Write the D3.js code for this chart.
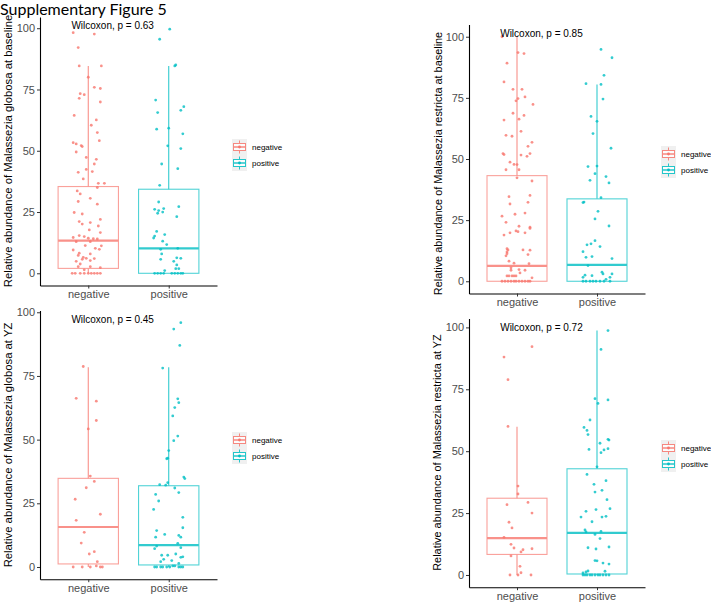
<!DOCTYPE html>
<html>
<head>
<meta charset="utf-8">
<script src="https://cdn.jsdelivr.net/npm/d3@7"></script>
<style>
  body { margin: 0; background: #fff; }
  text { font-family: Arial, "Liberation Sans", sans-serif; }
</style>
</head>
<body>
<script>
// Supplementary Figure 5 - boxplots with jittered points
// each point is [relative abundance, jitter] , jitter in +-16 units

const groups = ["negative", "positive"];
const colors = ["#F8766D", "#00BFC4"];

const globosaBaseNeg = [[98.2,-15],[97.6,6],[92.1,-10],[84.6,-9],[84.6,13],[80,0],[75.9,6],[75.4,12],[73.3,-8],[72.9,-4],[71.4,-9],[69.9,12],[64.4,-14],[62.6,8],[60.4,3],[57.4,9],[54.1,11],[53.3,-15],[52.8,-12],[52.1,-7],[51.7,-6],[49.5,-12],[47.3,-2],[46.5,8],[44.6,6],[42.4,-2],[41.2,-10],[41.5,4],[38.5,-5],[36.7,16],[36.7,10],[35,9],[33.6,-11],[32.4,-8],[30.6,2],[29.3,-10],[28.2,9],[24.8,-14],[24.2,-6],[22,12],[21.1,-9],[20.7,2],[20.1,-6],[19.3,10],[17.7,1],[16.6,12],[14.6,-15],[15.4,-9],[15,-4],[14.3,0],[14.1,5],[14,9],[12.9,-12],[12.9,2],[11.2,13],[11.3,-3],[9.5,-15],[10.2,7],[9.8,11],[8.2,-9],[7.3,-10],[7.9,2],[6.5,-5],[6.1,-2],[5.7,-6],[6,6],[4.9,-12],[5.2,2],[3.8,-8],[2.7,-10],[2.7,2],[2.3,12],[1.4,-4],[0,-16],[0,-13],[0,-8],[0,-4],[0,0],[0,3],[0,6],[0,9],[0,12]];
const globosaBasePos = [[99.6,1],[95.5,-9],[84.6,6],[85,7],[70.7,-13],[68,15],[66.5,12],[65.6,-11],[58.8,-12],[59.2,0],[56.9,14],[52,-1],[50.9,12],[44.6,-7],[42.7,9],[35.9,-9],[29.1,-10],[27.2,10],[26.1,-14],[26.4,-5],[25.6,-10],[25,-6],[24.5,-11],[23.1,8],[17.1,-12],[15.2,-14],[14.4,-15],[15.8,-4],[13.1,-6],[11.7,-2],[9.8,-8],[10.2,9],[7.9,-7],[5.7,-8],[6.1,12],[6.3,8],[4.9,5],[3.4,8],[1.9,7],[1.9,10],[1.1,-4],[0,-14],[0,-11],[0,-8],[0,-5],[0,3],[0,6],[0,9],[0,12],[0,14]];

const globosaYzNeg = [[78.7,-5],[66.2,-12],[65.1,8],[57.5,8],[54.2,0],[35.7,2],[33.6,6],[31.1,-2],[26.6,-13],[20.7,12],[18.3,-12],[13.6,-4],[9.4,-7],[5.1,1],[6,6],[2.1,9],[0,-15],[0,-6],[0,2],[0.4,8],[0,12],[0,14]];
const globosaYzPos = [[95.9,12],[93.4,5],[87,11],[78.1,-6],[66,9],[64.5,10],[62.6,6],[59.3,4],[51.4,9],[49.6,5],[45.7,0],[42.5,-2],[42.7,-1],[35.3,15],[34.7,16],[33.1,-1],[32.3,-9],[32.1,-3],[31,6],[29.2,10],[28.5,-13],[25.9,-10],[22.6,-15],[19.5,14],[14.3,-12],[15.4,14],[12.8,-4],[12.4,10],[11.7,-13],[11.7,12],[7.2,-14],[8.2,-12],[9.3,9],[7.6,12],[4.6,-7],[4.6,-1],[5.1,7],[4,14],[3.8,12],[3,-5],[2.1,-8],[2.5,3],[1.4,10],[0,-14],[0,-12],[0,-8],[0,-6],[0,-2],[0,1],[0.4,4],[0.4,6],[0,10],[0,12],[0,14]];

const restrictaBaseNeg = [[100,-15],[93.5,1],[93.1,7],[89.2,-10],[81.5,-13],[78.5,-4],[78.5,5],[74.7,1],[75.4,8],[73.8,-1],[72.3,16],[68.7,-4],[67.8,7],[65.9,-13],[66.3,2],[61.3,4],[59.7,-11],[59.3,-5],[56.8,15],[55.2,11],[52.2,-14],[51.8,-13],[51.6,4],[52.2,13],[51.1,10],[48.7,-7],[47.8,-3],[47.7,0],[45.6,-11],[45.6,2],[42.3,0],[41,15],[35.1,13],[34.6,-8],[31.6,-7],[32.3,11],[26.6,-15],[27.4,-2],[27.9,8],[24.1,-11],[22.1,13],[22.5,2],[21.6,13],[20.6,-1],[19.8,-7],[19.8,8],[20.3,1],[18.9,-13],[13.3,-10],[12.8,-9],[12.8,6],[12.7,13],[12,-10],[11.3,-10],[10.4,-11],[10.9,11],[8.2,-8],[7.4,-3],[7.2,12],[5.5,-6],[4.8,2],[4.5,-6],[4.5,8],[3.4,3],[2.2,-10],[2.2,-8],[2.2,-5],[2.2,-3],[2.2,-1],[1.4,15],[0,-15],[0,-12],[0,-9],[0,-6],[0,-3],[0,-1],[0,2],[0,5],[0,8],[0,11],[0,13]];
const restrictaBasePos = [[94.8,4],[91.4,15],[84.2,7],[80.8,-11],[80.5,4],[74.5,6],[67.4,-6],[65.4,0],[60.4,-4],[54.4,14],[46.9,-9],[47.1,0],[44,-2],[42.8,9],[41.3,-7],[40.2,12],[34.2,4],[32.4,-13],[32.2,-14],[28.6,1],[25.5,-2],[22.6,12],[16.6,-2],[15.3,-6],[14.9,-10],[14.2,3],[12.1,-14],[9.8,-11],[10.1,-5],[9.3,15],[6.4,-9],[3.7,5],[3,6],[3,15],[2.5,-12],[2.3,-5],[1.6,-14],[1.6,13],[0.8,9],[0,-14],[0,-11],[0,-7],[0,-4],[0,-1],[0,3],[0,7],[0,13]];

const restrictaYzNeg = [[92.2,15],[88,-13],[78.9,-9],[60,-9],[35.9,1],[32.7,1],[29.3,11],[28.4,-10],[25,15],[21.3,-8],[19,-5],[15.2,-13],[12.4,-6],[10.9,-3],[10.2,6],[10.6,15],[9.3,4],[7.7,-6],[3.5,3],[0.9,4],[0,-7],[0,1],[0,14]];
const restrictaYzPos = [[98.7,11],[91.1,4],[71.2,-2],[70.7,11],[69.3,1],[62.6,-7],[59.6,-13],[58.4,-10],[56.7,-9],[54.8,11],[54.5,12],[53.2,3],[51,11],[50.5,7],[50.7,-8],[49.4,4],[43.7,0],[40.6,-10],[36.6,-3],[38.1,9],[34.2,5],[33.5,-2],[30.4,10],[26.8,13],[26.4,-1],[25.7,-11],[23.4,-16],[23.7,9],[23.4,5],[21.5,-5],[18.2,-12],[17.4,-11],[17.6,4],[16.4,-2],[14.7,3],[11,-9],[10.5,-1],[11.3,12],[5.8,-2],[5.7,0],[4.8,6],[4.4,12],[1.6,-9],[1.2,-11],[1.5,8],[0.8,-14],[0,-14],[0,-12],[0,-10],[0,-7],[0,-5],[0,-2],[0,1],[0,3],[0,6],[0,9],[0,12]];

// box stats: [lower whisker, q1, median, q3, upper whisker]
const globosaBaseBox = [[0, 2, 13.3, 35.4, 84.6], [0, 0, 10.2, 34.3, 84.6]];
const globosaYzBox = [[0, 1.2, 15.7, 34.8, 78.4], [0, 0.8, 8.6, 31.9, 78.4]];
const restrictaBaseBox = [[0, 0, 6.3, 43.2, 100], [0, 0, 6.7, 33.7, 80.5]];
const restrictaYzBox = [[0, 8.3, 14.9, 31, 59.9], [0, 0.4, 17, 42.9, 98.7]];

const pValues = ["0.63", "0.45", "0.85", "0.72"];
const yTitles = ["Relative abundance of Malassezia globosa at baseline",
                 "Relative abundance of Malassezia globosa at YZ",
                 "Relative abundance of Malassezia restricta at baseline",
                 "Relative abundance of Malassezia restricta at YZ"];
const yTicks = [0, 25, 50, 75, 100];

// panel layout (pixels)
const panels = [
  {points: [globosaBaseNeg, globosaBasePos], box: globosaBaseBox, left: 40, right: 217, top: 17, bottom: 285.5,
   titleX: 11.5, titleY: 151, titleSize: 11.3, legX: 232, legY: 139},
  {points: [globosaYzNeg, globosaYzPos], box: globosaYzBox, left: 40, right: 217, top: 310.5, bottom: 579.2,
   titleX: 11.5, titleY: 445, titleSize: 11.3, legX: 232, legY: 432},
  {points: [restrictaBaseNeg, restrictaBasePos], box: restrictaBaseBox, left: 469, right: 645, top: 24.5, bottom: 293.5,
   titleX: 441.7, titleY: 163.5, titleSize: 10.9, legX: 661, legY: 146},
  {points: [restrictaYzNeg, restrictaYzPos], box: restrictaYzBox, left: 469, right: 645, top: 318.4, bottom: 587.2,
   titleX: 441, titleY: 452.5, titleSize: 10.9, legX: 661, legY: 440}
];

const svg = d3.select("body").append("svg")
  .attr("width", 711)
  .attr("height", 603);

svg.append("rect").attr("width", 711).attr("height", 603).attr("fill", "#fff");

svg.append("text")
  .attr("x", 0)
  .attr("y", 14.5)
  .style("font-family", "Lato, 'Open Sans', sans-serif")
  .style("font-size", "16px")
  .text("Supplementary Figure 5");

panels.forEach(function(p, i) {
  drawPanel(p, i);
});

function drawPanel(p, idx) {
  let g = svg.append("g");

  // y domain = data range expanded by 5% like ggplot
  let all = p.points[0].concat(p.points[1]).map(d => d[0]);
  let lo = d3.min(all), hi = d3.max(all);
  let pad = (hi - lo) * 0.05;

  let y = d3.scaleLinear()
    .domain([lo - pad, hi + pad])
    .range([p.bottom, p.top]);

  let x = d3.scalePoint()
    .domain(groups)
    .range([p.left, p.right])
    .padding(0.6);

  let step = x.step();
  let boxW = step * 0.75;
  let jitter = d3.scaleLinear().domain([-16, 16]).range([-0.2 * step, 0.2 * step]);

  // boxes
  groups.forEach(function(grp, k) {
    let s = p.box[k];
    let cx = x(grp);
    let bg = g.append("g")
      .attr("stroke", colors[k])
      .attr("fill", "none")
      .attr("opacity", 0.8);
    bg.append("line")
      .attr("x1", cx).attr("x2", cx)
      .attr("y1", y(s[4])).attr("y2", y(s[3]))
      .attr("stroke-width", 1.1);
    bg.append("line")
      .attr("x1", cx).attr("x2", cx)
      .attr("y1", y(s[1])).attr("y2", y(s[0]))
      .attr("stroke-width", 1.1);
    bg.append("rect")
      .attr("x", cx - boxW / 2)
      .attr("y", y(s[3]))
      .attr("width", boxW)
      .attr("height", y(s[1]) - y(s[3]))
      .attr("stroke-width", 1.1)
      .attr("stroke-opacity", 0.85);
    bg.append("line")
      .attr("x1", cx - boxW / 2).attr("x2", cx + boxW / 2)
      .attr("y1", y(s[2])).attr("y2", y(s[2]))
      .attr("stroke-width", 2.2);
  });

  // jittered points
  groups.forEach(function(grp, k) {
    g.append("g")
      .selectAll("circle")
      .data(p.points[k])
      .enter()
      .append("circle")
      .attr("cx", d => x(grp) + jitter(d[1]))
      .attr("cy", d => y(d[0]))
      .attr("r", 1.4)
      .attr("fill", colors[k])
      .attr("fill-opacity", 0.8);
  });

  // axes
  let yAxis = g.append("g")
    .attr("transform", "translate(" + p.left + ",0)")
    .call(d3.axisLeft(y).tickValues(yTicks).tickSize(3).tickSizeOuter(0).tickPadding(2));
  let xAxis = g.append("g")
    .attr("transform", "translate(0," + p.bottom + ")")
    .call(d3.axisBottom(x).tickSize(3).tickSizeOuter(0).tickPadding(2));

  [yAxis, xAxis].forEach(function(a) {
    a.select(".domain").attr("stroke", "#000").attr("stroke-width", 1.1);
    a.selectAll(".tick line").attr("stroke", "#333").attr("stroke-width", 1);
    a.selectAll(".tick text")
      .attr("fill", "#4d4d4d")
      .style("font-size", "11px")
      .style("font-family", "Arial, 'Liberation Sans', sans-serif");
  });

  // y title
  g.append("text")
    .attr("transform", "translate(" + p.titleX + "," + p.titleY + ") rotate(-90)")
    .attr("text-anchor", "middle")
    .style("font-size", p.titleSize + "px")
    .attr("fill", "#000")
    .text(yTitles[idx]);

  // wilcoxon label
  g.append("text")
    .attr("x", x("negative") - 0.21 * step)
    .attr("y", y(hi))
    .style("font-size", "10px")
    .attr("fill", "#000")
    .text("Wilcoxon, p = " + pValues[idx]);

  // legend
  let leg = g.append("g").attr("transform", "translate(" + p.legX + "," + p.legY + ")");
  leg.append("rect")
    .attr("width", 15).attr("height", 32)
    .attr("fill", "#f0f0f0");
  groups.forEach(function(grp, k) {
    let ky = k * 16;
    let kg = leg.append("g").attr("stroke", colors[k]).attr("fill", "none").attr("opacity", 0.85);
    kg.append("line").attr("x1", 7.5).attr("x2", 7.5).attr("y1", ky + 1.5).attr("y2", ky + 4.5);
    kg.append("line").attr("x1", 7.5).attr("x2", 7.5).attr("y1", ky + 11.5).attr("y2", ky + 14.5);
    kg.append("rect").attr("x", 1.5).attr("y", ky + 4.5).attr("width", 12).attr("height", 7)
      .attr("fill", "#fff");
    kg.append("line").attr("x1", 1.5).attr("x2", 13.5).attr("y1", ky + 8).attr("y2", ky + 8)
      .attr("stroke-width", 1.5);
    leg.append("circle").attr("cx", 7.5).attr("cy", ky + 8).attr("r", 1.4).attr("fill", colors[k]);
    leg.append("text")
      .attr("x", 20)
      .attr("y", ky + 8)
      .attr("dy", "0.35em")
      .style("font-size", "8px")
      .attr("fill", "#000")
      .text(grp);
  });
}
</script>
</body>
</html>
